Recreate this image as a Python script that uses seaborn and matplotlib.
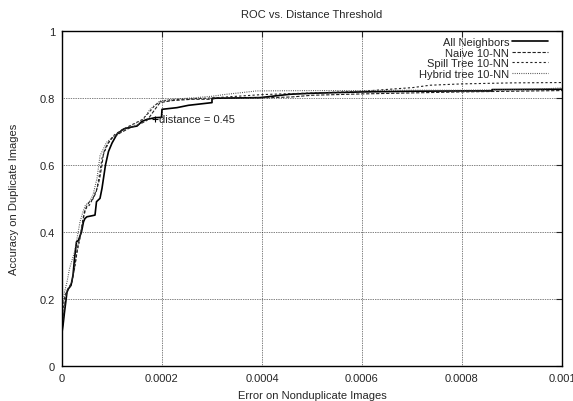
import matplotlib
matplotlib.use("Agg")
import matplotlib.pyplot as plt
import seaborn as sns
import numpy as np
import pandas as pd

# x values in units of 1e-4 (error on nonduplicate images)
all_x = [0, 0, 0.02, 0.05, 0.1, 0.13, 0.18, 0.22, 0.25, 0.29, 0.33, 0.39, 0.43, 0.46, 0.5, 0.6,
         0.66, 0.69, 0.76, 0.8, 0.83, 0.87, 0.93, 1.0, 1.1, 1.23, 1.35, 1.5, 1.6, 1.7, 1.86, 1.99,
         2.0, 2.3, 2.53, 3.0, 3.0, 3.5, 3.96, 4.56, 5.0, 6.0, 7.0, 8.0, 8.6, 8.6, 10.0]
all_y = [0, 0.10, 0.12, 0.16, 0.22, 0.23, 0.24, 0.27, 0.32, 0.37, 0.375, 0.40, 0.43, 0.44, 0.445, 0.448,
         0.45, 0.49, 0.50, 0.53, 0.56, 0.60, 0.64, 0.665, 0.692, 0.707, 0.712, 0.716, 0.73, 0.736, 0.741, 0.742,
         0.766, 0.771, 0.778, 0.786, 0.799, 0.80, 0.801, 0.811, 0.814, 0.818, 0.82, 0.821, 0.821, 0.825, 0.826]

naive_x = [0, 0, 0.03, 0.08, 0.12, 0.2, 0.27, 0.32, 0.38, 0.45, 0.5, 0.55, 0.62, 0.68, 0.75, 0.8, 0.83,
           0.9, 1.0, 1.16, 1.35, 1.56, 1.7, 1.76, 1.86, 1.96, 2.2, 2.6, 3.0, 3.1, 4.0, 4.6, 5.0, 6.0,
           7.0, 8.0, 10.0]
naive_y = [0, 0.11, 0.15, 0.21, 0.23, 0.25, 0.31, 0.36, 0.40, 0.46, 0.478, 0.49, 0.498, 0.518, 0.557, 0.60, 0.635,
           0.66, 0.68, 0.695, 0.71, 0.722, 0.733, 0.745, 0.766, 0.786, 0.792, 0.796, 0.796, 0.80, 0.80, 0.803, 0.808, 0.812,
           0.815, 0.818, 0.822]

spill_x = [0, 0, 0.02, 0.06, 0.1, 0.18, 0.25, 0.3, 0.36, 0.42, 0.48, 0.55, 0.62, 0.7, 0.76, 0.8, 0.88,
           0.95, 1.05, 1.2, 1.4, 1.6, 1.75, 1.85, 1.95, 2.1, 2.5, 3.0, 3.5, 4.0, 5.0, 6.0, 7.02, 7.36,
           8.0, 9.0, 10.0]
spill_y = [0, 0.12, 0.17, 0.21, 0.225, 0.24, 0.29, 0.34, 0.38, 0.44, 0.47, 0.48, 0.50, 0.53, 0.58, 0.62, 0.65,
           0.672, 0.69, 0.705, 0.72, 0.735, 0.758, 0.777, 0.788, 0.793, 0.797, 0.80, 0.805, 0.81, 0.815, 0.82, 0.831, 0.838,
           0.842, 0.845, 0.846]

hybrid_x = [0, 0, 0.02, 0.05, 0.1, 0.15, 0.19, 0.25, 0.3, 0.36, 0.42, 0.47, 0.55, 0.62, 0.7, 0.76, 0.89,
            1.09, 1.36, 1.63, 1.76, 1.96, 2.2, 2.6, 3.0, 3.29, 3.6, 3.89, 5.0, 6.0, 7.0, 8.0, 9.5, 10.0]
hybrid_y = [0, 0.12, 0.18, 0.22, 0.25, 0.29, 0.31, 0.34, 0.38, 0.43, 0.46, 0.48, 0.49, 0.51, 0.56, 0.627, 0.667,
            0.692, 0.716, 0.736, 0.766, 0.791, 0.796, 0.80, 0.805, 0.811, 0.816, 0.821, 0.822, 0.822, 0.823, 0.823, 0.826, 0.83]

labels = ["All Neighbors", "Naive 10-NN", "Spill Tree 10-NN", "Hybrid tree 10-NN"]
xticks = [0, 0.0002, 0.0004, 0.0006, 0.0008, 0.001]
xtick_labels = ["0", "0.0002", "0.0004", "0.0006", "0.0008", "0.001"]
yticks = [0, 0.2, 0.4, 0.6, 0.8, 1]
ytick_labels = ["0", "0.2", "0.4", "0.6", "0.8", "1"]
label_point = (0.000186, 0.737)

sns.set_style("white")
plt.rcParams['font.family'] = ['Liberation Sans', 'DejaVu Sans']

fig = plt.figure(figsize=(5.73, 4.02), dpi=100)
ax = fig.add_axes([0.1082, 0.0878, 0.8726, 0.8326])

series = [(all_x, all_y), (naive_x, naive_y), (spill_x, spill_y), (hybrid_x, hybrid_y)]
styles = [dict(lw=1.2, ls="-", color="black"),
          dict(lw=0.8, ls=(0, (3, 1.5)), color="#222222"),
          dict(lw=0.8, ls=(0, (2, 2)), color="#222222"),
          dict(lw=0.8, ls=(0, (0.8, 1.2)), color="#444444")]

for (xs, ys), lab, st in zip(series, labels, styles):
    df = pd.DataFrame({"x": np.array(xs) * 1e-4, "y": ys})
    sns.lineplot(data=df, x="x", y="y", ax=ax, estimator=None, sort=False,
                 label=lab, color=st["color"], linewidth=st["lw"], linestyle=st["ls"])

ax.plot(*label_point, marker="+", color="black", ms=5, mew=0.8)
ax.text(label_point[0] + 0.000009, label_point[1], "distance = 0.45", fontsize=8, va="center", ha="left")

ax.set_xlim(0, 0.001)
ax.set_ylim(0, 1)
ax.set_xticks(xticks)
ax.set_xticklabels(xtick_labels)
ax.set_yticks(yticks)
ax.set_yticklabels(ytick_labels)
ax.grid(True, color="black", linestyle=(0, (1, 1.5)), linewidth=0.5)
ax.tick_params(direction="in", length=4, width=0.8, top=True, right=True, labelsize=8, pad=5)
for sp in ax.spines.values():
    sp.set_visible(True)
    sp.set_color("black")
    sp.set_linewidth(1.0)

ax.set_xlabel("Error on Nonduplicate Images", fontsize=8, labelpad=5.5)
ax.set_ylabel("Accuracy on Duplicate Images", fontsize=8, labelpad=15)
ax.set_title("ROC vs. Distance Threshold", fontsize=8, pad=10)

leg = ax.legend(loc="upper right", frameon=False, markerfirst=False, fontsize=8,
                handlelength=3.2, labelspacing=0.05, borderaxespad=0, handletextpad=0.3,
                borderpad=0, bbox_to_anchor=(548 / 573, 1 - 38 / 402),
                bbox_transform=fig.transFigure)
for t in leg.get_texts():
    t.set_ha("right")

fig.savefig("out.png", dpi=100)
